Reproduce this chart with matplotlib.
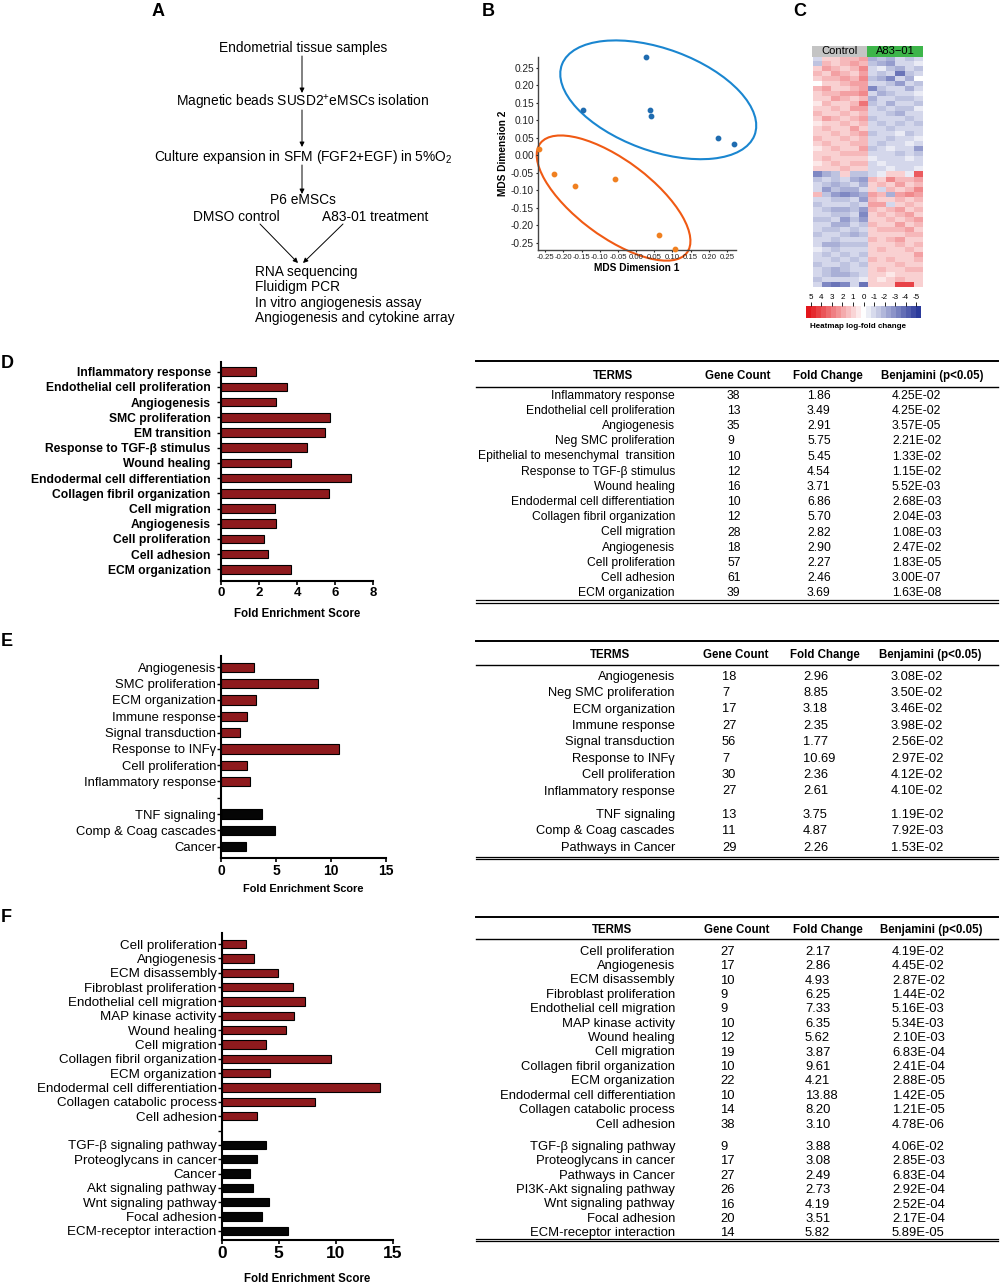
import numpy as np
import matplotlib
matplotlib.use('Agg')
import matplotlib.pyplot as plt
from matplotlib.patches import Ellipse, Rectangle
from matplotlib.colors import LinearSegmentedColormap
import matplotlib.patheffects as pe

plt.rcParams['font.family'] = ['Liberation Sans', 'DejaVu Sans']
plt.rcParams['mathtext.fontset'] = 'custom'
plt.rcParams['mathtext.rm'] = 'Liberation Sans'
plt.rcParams['mathtext.it'] = 'Liberation Sans:italic'
plt.rcParams['mathtext.bf'] = 'Liberation Sans:bold'

# ---------------- data ----------------
flow_steps = ["Endometrial tissue samples",
              r"Magnetic beads SUSD2$^{+}$eMSCs isolation",
              r"Culture expansion in SFM (FGF2+EGF) in 5%O$_{2}$",
              "P6 eMSCs"]
flow_branches = ["DMSO control", "A83-01 treatment"]
flow_outputs = ["RNA sequencing", "Fluidigm PCR", "In vitro angiogenesis assay",
                "Angiogenesis and cytokine array"]

ctrl_x = [0.028, -0.145, 0.037, 0.042, 0.225, 0.270]
ctrl_y = [0.280, 0.128, 0.128, 0.113, 0.049, 0.031]
a83_x = [-0.267, -0.227, -0.167, -0.057, 0.063, 0.106]
a83_y = [0.019, -0.052, -0.088, -0.069, -0.227, -0.268]
mds_ticks = [-0.25, -0.20, -0.15, -0.10, -0.05, 0.00, 0.05, 0.10, 0.15, 0.20, 0.25]

heat_groups = ["Control", "A83\u221201"]
heat_upper = [
    [-1, 1, 1, 1.5, 1.5, 2, -2, -1.5, -2, -1, -1.5, -1],
    [-1.5, 1.5, 1, 1.5, 2, 1.5, -1.5, -2, -2.5, -1, -1, -0.5],
    [1, 2, 1.5, 1, 1.5, 2.5, -1, -0.5, -1.5, -2, -1, -1.5],
    [1.5, 1, 2, 1.5, 1, 2, -1, -1.5, -1, -3.5, -1.5, -1],
    [1, 1.5, 1.5, 2, 1.5, 2.5, -1.5, -2, -3, -1, -2, 0],
    [0, 1, 1, 1.5, 2, 2, -1, -1, -1.5, -2.5, -1, -1.5],
    [1.5, 2, 1, 1, 1.5, 2, -3, -1.5, -1, -1, -2, -1],
    [1, 1.5, 1.5, 2, 2, 2.5, -1, -2, -1.5, -1, -1, -0.5],
    [1, 1, 2, 1.5, 1, 1.5, -2, -1, -1, -1.5, -1.5, -1],
    [0.5, 1.5, 1, 1, 1.5, 3, -1.5, -1, -2, -1, -1, -1.5],
    [1, 1, 1.5, 1, 2, 2, -1, -1.5, -1, -1.5, -1.5, -0.5],
    [1.5, 1, 1, 1.5, 1, 1.5, -1, -1, -1.5, -2, -1, -1],
    [1, 2, 1.5, 1, 1.5, 2, -1.5, -1, -1, -1, -1.5, -1],
    [0.5, 1, 1, 1.5, 1, 1.5, -1, -1.5, -1, -1.5, -1, -1.5],
    [1, 1.5, 1, 1, 2, 1, -1, -1, -1.5, -1, -1, -1],
    [1, 1, 1.5, 1, 1.5, 2, -1.5, -1, -1, -0.5, -1.5, -1],
    [1.5, 1, 1, 1.5, 1, 1.5, -1, -1, -1.5, -1, -1, -0.5],
    [1, 1.5, 1, 1, 1.5, 1.5, -1, -1.5, -1, -1, -0.5, -1],
    [0.5, 1, 1.5, 1, 1, 2, -1.5, -1, -0.5, -1, -1, -2.5],
    [1, 1, 1, 1.5, 1.5, 1.5, -1, -1, -1, -1.5, -1, -1.5],
    [1, 1.5, 1, 1, 1, 1, -0.5, -1, -1, -1, -0.5, -1],
    [0.5, 1, 1.5, 1, 1.5, 1.5, -1, -0.5, -1, -1, -1, -1],
    [1, 1, 1, 1.5, 1, 1, -1, -1, -0.5, -1, -1, -0.5],
]
heat_lower = [
    [-3, -2, -1.5, 1, -1.5, -1.5, -1, -0.5, 1, 1, -0.5, 3.5],
    [-1.5, -1, -1.5, -1, -2, -2.5, 1.5, 1, 2.5, 1.5, 1.5, 2],
    [-1, -1.5, -2, -1.5, -1, -2, 1, 1.5, 1, 2, 1, 1.5],
    [-1, -2.5, -1.5, -2, -2, -1, 1, -1, 1.5, 1, 1.5, 2.5],
    [1.5, -1.5, -2.5, -3, -2.5, -2, 2, 1.5, -2, 2, 2.5, 2],
    [-1, -1, -1.5, -1.5, -1, -2.5, 1.5, 1, 1, 1.5, 1, 1.5],
    [-1.5, -1, -1, -1, -1.5, -1, 2, 2, -1, 1, 1.5, 1],
    [-1, -1.5, -2, -2, -1.5, -2.5, 1.5, 1, 1.5, 2, 1, 1.5],
    [-1, -1, -1.5, -1.5, -1, -3, 1, 1.5, 1, 1.5, 2, 1],
    [-1.5, -1.5, -1, -2.5, -1.5, -2.5, 1, 1, 1.5, 1, 1.5, 2],
    [-1, -1, -2, -2, -1, -1.5, 1.5, 1, 1, 2, 1, 1.5],
    [-1, -1.5, -1.5, -1, -1.5, -1, 1, 1.5, 1.5, 1.5, 2, 1],
    [-1.5, -1, -1, -1.5, -2, -1.5, 1, 1, 1, 1, 1.5, 1.5],
    [-1, -1, -1.5, -1, -1, -1, 1.5, 1, 1.5, 2, 1, 1],
    [-1, -2, -2, -1.5, -1.5, -1.5, 1, 1, 1, 1.5, 1, 1.5],
    [-0.5, -1, -1.5, -1, -1, -1, 1, 1.5, 1, 1, 1.5, 1],
    [-1, -1.5, -1, -1.5, -1, -1.5, 1, 1, 1, 1, 1, 2],
    [-1, -1, -1.5, -1, -1.5, -1, 1.5, 1, 1.5, 1, 1, 1.5],
    [-1.5, -1, -1, -1.5, -1, -1.5, 1, 1, 1, 1.5, 1, 1],
    [-1, -1.5, -2, -1.5, -1, -1, 1, 1.5, 1, 1, 1.5, 1.5],
    [-1, -1.5, -2, -2, -1.5, -1, 1, 1, 0.5, 1, 1, 1],
    [-1.5, -1, -1, -1, -1, -0.5, 1, 0.5, 1, 1.5, 1, 1],
    [-1, -3, -3.5, -3, -1, -3.5, 1, 1, 1, 4, 4, 1],
]
cbar_ticks = [5, 4, 3, 2, 1, 0, -1, -2, -3, -4, -5]

d_bar_terms = ["Inflammatory response", "Endothelial cell proliferation", "Angiogenesis",
               "SMC proliferation", "EM transition", "Response to TGF-\u03b2 stimulus",
               "Wound healing", "Endodermal cell differentiation", "Collagen fibril organization",
               "Cell migration", "Angiogenesis", "Cell proliferation", "Cell adhesion",
               "ECM organization"]
d_table_terms = ["Inflammatory response", "Endothelial cell proliferation", "Angiogenesis",
                 "Neg SMC proliferation", "Epithelial to mesenchymal  transition",
                 "Response to TGF-\u03b2 stimulus", "Wound healing", "Endodermal cell differentiation",
                 "Collagen fibril organization", "Cell migration", "Angiogenesis",
                 "Cell proliferation", "Cell adhesion", "ECM organization"]
d_counts = [38, 13, 35, 9, 10, 12, 16, 10, 12, 28, 18, 57, 61, 39]
d_fold = ["1.86", "3.49", "2.91", "5.75", "5.45", "4.54", "3.71", "6.86", "5.70", "2.82",
          "2.90", "2.27", "2.46", "3.69"]
d_benj = ["4.25E-02", "4.25E-02", "3.57E-05", "2.21E-02", "1.33E-02", "1.15E-02", "5.52E-03",
          "2.68E-03", "2.04E-03", "1.08E-03", "2.47E-02", "1.83E-05", "3.00E-07", "1.63E-08"]

e_bar_terms = ["Angiogenesis", "SMC proliferation", "ECM organization", "Immune response",
               "Signal transduction", "Response to INF\u03b3", "Cell proliferation",
               "Inflammatory response", "TNF signaling", "Comp & Coag cascades", "Cancer"]
e_table_terms = ["Angiogenesis", "Neg SMC proliferation", "ECM organization", "Immune response",
                 "Signal transduction", "Response to INF\u03b3", "Cell proliferation",
                 "Inflammatory response", "TNF signaling", "Comp & Coag cascades",
                 "Pathways in Cancer"]
e_n_go = 8
e_counts = [18, 7, 17, 27, 56, 7, 30, 27, 13, 11, 29]
e_fold = ["2.96", "8.85", "3.18", "2.35", "1.77", "10.69", "2.36", "2.61", "3.75", "4.87", "2.26"]
e_benj = ["3.08E-02", "3.50E-02", "3.46E-02", "3.98E-02", "2.56E-02", "2.97E-02", "4.12E-02",
          "4.10E-02", "1.19E-02", "7.92E-03", "1.53E-02"]

f_bar_terms = ["Cell proliferation", "Angiogenesis", "ECM disassembly", "Fibroblast proliferation",
               "Endothelial cell migration", "MAP kinase activity", "Wound healing",
               "Cell migration", "Collagen fibril organization", "ECM organization",
               "Endodermal cell differentiation", "Collagen catabolic process", "Cell adhesion",
               "TGF-\u03b2 signaling pathway", "Proteoglycans in cancer", "Cancer",
               "Akt signaling pathway", "Wnt signaling pathway", "Focal adhesion",
               "ECM-receptor interaction"]
f_table_terms = ["Cell proliferation", "Angiogenesis", "ECM disassembly", "Fibroblast proliferation",
                 "Endothelial cell migration", "MAP kinase activity", "Wound healing",
                 "Cell migration", "Collagen fibril organization", "ECM organization",
                 "Endodermal cell differentiation", "Collagen catabolic process", "Cell adhesion",
                 "TGF-\u03b2 signaling pathway", "Proteoglycans in cancer", "Pathways in Cancer",
                 "PI3K-Akt signaling pathway", "Wnt signaling pathway", "Focal adhesion",
                 "ECM-receptor interaction"]
f_n_go = 13
f_counts = [27, 17, 10, 9, 9, 10, 12, 19, 10, 22, 10, 14, 38, 9, 17, 27, 26, 16, 20, 14]
f_fold = ["2.17", "2.86", "4.93", "6.25", "7.33", "6.35", "5.62", "3.87", "9.61", "4.21",
          "13.88", "8.20", "3.10", "3.88", "3.08", "2.49", "2.73", "4.19", "3.51", "5.82"]
f_benj = ["4.19E-02", "4.45E-02", "2.87E-02", "1.44E-02", "5.16E-03", "5.34E-03", "2.10E-03",
          "6.83E-04", "2.41E-04", "2.88E-05", "1.42E-05", "1.21E-05", "4.78E-06", "4.06E-02",
          "2.85E-03", "6.83E-04", "2.92E-04", "2.52E-04", "2.17E-04", "5.89E-05"]

table_headers = ["TERMS", "Gene Count", "Fold Change", "Benjamini (p<0.05)"]

# ---------------- figure ----------------
W, H = 1000, 1286
fig = plt.figure(figsize=(W / 100, H / 100), dpi=100)
fig.patch.set_facecolor('white')


def ax_px(x0, y0, x1, y1):
    return fig.add_axes([x0 / W, 1 - y1 / H, (x1 - x0) / W, (y1 - y0) / H])


ov = ax_px(0, 0, W, H)
ov.set_xlim(0, W)
ov.set_ylim(H, 0)
ov.axis('off')

# panel letters
for letter, (lx, ly, ha) in {"A": (158, 11, 'center'), "B": (488, 12, 'center'),
                             "C": (800, 12, 'center'), "D": (1, 363, 'left'),
                             "E": (1, 641, 'left'), "F": (1, 918, 'left')}.items():
    ov.text(lx, ly, letter, fontsize=13, fontweight='bold', ha=ha, va='center')

# ---------------- Panel A ----------------
fs_flow = 9.9
step_y = [48, 103, 157, 200]
for s, y in zip(flow_steps, step_y):
    ov.text(303, y, s, fontsize=fs_flow, ha='center', va='center')
for y0, y1 in [(56, 93), (110, 147), (165, 194)]:
    ov.annotate('', xy=(302, y1), xytext=(302, y0),
                arrowprops=dict(arrowstyle='-|>', lw=0.7, color='black', mutation_scale=7,
                                shrinkA=0, shrinkB=0))
ov.text(236, 217, flow_branches[0], fontsize=fs_flow, ha='center', va='center')
ov.text(375, 217, flow_branches[1], fontsize=fs_flow, ha='center', va='center')
ov.annotate('', xy=(298, 263), xytext=(260, 224),
            arrowprops=dict(arrowstyle='-|>', lw=0.7, color='black', mutation_scale=7,
                            shrinkA=0, shrinkB=0))
ov.annotate('', xy=(303, 263), xytext=(343, 224),
            arrowprops=dict(arrowstyle='-|>', lw=0.7, color='black', mutation_scale=7,
                            shrinkA=0, shrinkB=0))
for i, s in enumerate(flow_outputs):
    ov.text(255, 272 + i * 15.3, s, fontsize=fs_flow, ha='left', va='center')

# ---------------- Panel B (MDS) ----------------
axb = ax_px(538, 57, 736, 250)
axb.set_xlim(-0.27, 0.275)
axb.set_ylim(-0.27, 0.28)
axb.scatter(ctrl_x, ctrl_y, s=10, color='#1f6cb0', zorder=3, clip_on=False)
axb.scatter(a83_x, a83_y, s=10, color='#f08020', zorder=3, clip_on=False)
axb.add_patch(Ellipse((0.061, 0.158), 0.567, 0.29, angle=-21, fill=False,
                      edgecolor='#1a86d0', lw=1.5, clip_on=False))
axb.add_patch(Ellipse((-0.062, -0.122), 0.51, 0.215, angle=-38, fill=False,
                      edgecolor='#f05a14', lw=1.5, clip_on=False))
for sp in ['top', 'right']:
    axb.spines[sp].set_visible(False)
for sp in ['left', 'bottom']:
    axb.spines[sp].set_color('#444444')
    axb.spines[sp].set_linewidth(1)
axb.set_xticks(mds_ticks)
axb.set_yticks(mds_ticks)
axb.set_xticklabels([f"{t:.2f}" for t in mds_ticks], fontsize=5.6)
axb.set_yticklabels([f"{t:.2f}" for t in mds_ticks], fontsize=7.3)
axb.tick_params(length=1.5, pad=1.5, colors='#222222')
axb.set_xlabel("MDS Dimension 1", fontsize=7.3, fontweight='bold', labelpad=1.5)
axb.set_ylabel("MDS Dimension 2", fontsize=7.3, fontweight='bold', labelpad=2)
ov.text(603, 79, "Control", fontsize=13, fontweight='bold', color='#2aa8e0', ha='center',
        va='center', path_effects=[pe.withStroke(linewidth=2, foreground='#1b2448')])
ov.text(622, 213, "A83-01", fontsize=13, fontweight='bold', color='#e0201c', ha='center',
        va='center', path_effects=[pe.withStroke(linewidth=2, foreground='#3a0808')])

# ---------------- Panel C (heatmap) ----------------
cmap = LinearSegmentedColormap.from_list('rwb', ['#2b3a9b', '#ffffff', '#e3161c'])
heat = np.array(heat_upper + heat_lower, dtype=float)
axc = ax_px(813, 57, 923, 287)
axc.imshow(heat, cmap=cmap, vmin=-5, vmax=5, aspect='auto', interpolation='nearest')
axc.axis('off')
ov.add_patch(Rectangle((812, 46), 55, 11, facecolor='#c4c4c4', edgecolor='none'))
ov.add_patch(Rectangle((867, 46), 56, 11, facecolor='#3db54a', edgecolor='none'))
ov.text(839.5, 51.5, heat_groups[0], fontsize=8, ha='center', va='center')
ov.text(895, 51.5, heat_groups[1], fontsize=8, ha='center', va='center')

axcb = ax_px(806, 306, 921, 318)
grad = np.linspace(5, -5, 23)[None, :]
axcb.imshow(grad, cmap=cmap, vmin=-5, vmax=5, aspect='auto',
            extent=[5.45, -5.45, 0, 1], interpolation='nearest')
axcb.set_xlim(5.45, -5.45)
axcb.set_yticks([])
axcb.xaxis.set_ticks_position('top')
axcb.set_xticks(cbar_ticks)
axcb.set_xticklabels([str(t) for t in cbar_ticks], fontsize=5.8)
axcb.tick_params(axis='x', length=3, width=0.6, pad=0.5)
for sp in axcb.spines.values():
    sp.set_visible(False)
ov.text(858, 326, "Heatmap log-fold change", fontsize=5.8, fontweight='bold',
        ha='center', va='center')

# ---------------- bar panels ----------------
RED = '#8e1a1d'
BLK = '#050505'


def bar_panel(box, terms, vals, n_go, xmax, xticks, ylim, bar_h, lab_fs, lab_bold, tick_fs,
              xl_y, xl_fs, ypad):
    ax = ax_px(*box)
    n = len(vals)
    gap = n_go < n
    pos = [i if i < n_go else i + 1 for i in range(n)]
    cols = [RED if i < n_go else BLK for i in range(n)]
    ax.barh(pos, vals, height=bar_h, color=cols, edgecolor='black', linewidth=0.8)
    ticks = list(range(n + (1 if gap else 0)))
    labels = []
    for t in ticks:
        if t in pos:
            labels.append(terms[pos.index(t)])
        else:
            labels.append('')
    ax.set_yticks(ticks)
    ax.set_yticklabels(labels, fontsize=lab_fs, fontweight='bold' if lab_bold else 'normal')
    ax.set_xlim(0, xmax)
    ax.set_ylim(*ylim)
    ax.set_xticks(xticks)
    ax.set_xticklabels([str(t) for t in xticks], fontsize=tick_fs, fontweight='bold')
    for sp in ['top', 'right']:
        ax.spines[sp].set_visible(False)
    for sp in ['left', 'bottom']:
        ax.spines[sp].set_linewidth(1.5)
    ax.tick_params(axis='y', length=3, width=1, pad=ypad)
    ax.tick_params(axis='x', length=3, width=1.2, pad=1.5)
    cx = (box[0] + box[2]) / 2
    ov.text(cx, xl_y, "Fold Enrichment Score", fontsize=xl_fs, fontweight='bold',
            ha='center', va='center')
    return ax


d_vals = [float(v) for v in d_fold]
e_vals = [float(v) for v in e_fold]
f_vals = [float(v) for v in f_fold]

bar_panel((221, 362, 373, 580.7), d_bar_terms, d_vals, len(d_vals), 8, [0, 2, 4, 6, 8],
          (13.75, -0.64), 0.56, 8.7, True, 9.5, 614, 8.3, 4.5)
bar_panel((221, 656, 386, 857.7), e_bar_terms, e_vals, e_n_go, 15, [0, 5, 10, 15],
          (11.67, -0.69), 0.57, 9.4, False, 10, 889, 7.9, 0.6)
bar_panel((221.7, 933, 392.7, 1240), f_bar_terms, f_vals, f_n_go, 15, [0, 5, 10, 15],
          (20.63, -0.77), 0.58, 9.6, False, 12.5, 1279, 8.3, 0.6)


# ---------------- tables ----------------
def draw_table(y_top, y_head, y_under, y_bottom, row_y, terms, counts, folds, benjs,
               head_cx, col_x, fs):
    x0, x1 = 476, 998
    ov.plot([x0, x1], [y_top, y_top], color='black', lw=1.4)
    ov.plot([x0, x1], [y_under, y_under], color='black', lw=1.0)
    ov.plot([x0, x1], [y_bottom - 1.2, y_bottom - 1.2], color='black', lw=0.9)
    ov.plot([x0, x1], [y_bottom + 1.2, y_bottom + 1.2], color='black', lw=0.9)
    for h, cx in zip(table_headers, head_cx):
        ov.text(cx, y_head, h, fontsize=8.3, fontweight='bold', ha='center', va='center')
    for y, t, c, f, b in zip(row_y, terms, counts, folds, benjs):
        ov.text(col_x[0], y, t, fontsize=fs, ha='right', va='center')
        ov.text(col_x[1], y, str(c), fontsize=fs, ha='left', va='center')
        ov.text(col_x[2], y, f, fontsize=fs, ha='left', va='center')
        ov.text(col_x[3], y, b, fontsize=fs, ha='left', va='center')


def rows_y(y0, dy, n, n_first=None, extra=0):
    out = []
    for i in range(n):
        y = y0 + i * dy
        if n_first is not None and i >= n_first:
            y += extra
        out.append(y)
    return out


draw_table(361, 375.7, 386.7, 601.5, rows_y(395.7, 15.2, len(d_counts)),
           d_table_terms, d_counts, d_fold, d_benj,
           [613, 738, 828, 932], [675, 727, 807, 892], 8.7)
draw_table(640.7, 655, 665, 857.7, rows_y(676.7, 16.4, len(e_counts), e_n_go, 7.1),
           e_table_terms, e_counts, e_fold, e_benj,
           [610, 736, 825, 930], [675, 722, 803, 891], 9.3)
draw_table(916.7, 930, 939.3, 1240, rows_y(951.7, 14.4, len(f_counts), f_n_go, 8),
           f_table_terms, f_counts, f_fold, f_benj,
           [612, 737, 828, 931], [675, 720, 805, 892], 9.4)

fig.savefig('out.png', dpi=100, facecolor='white')
